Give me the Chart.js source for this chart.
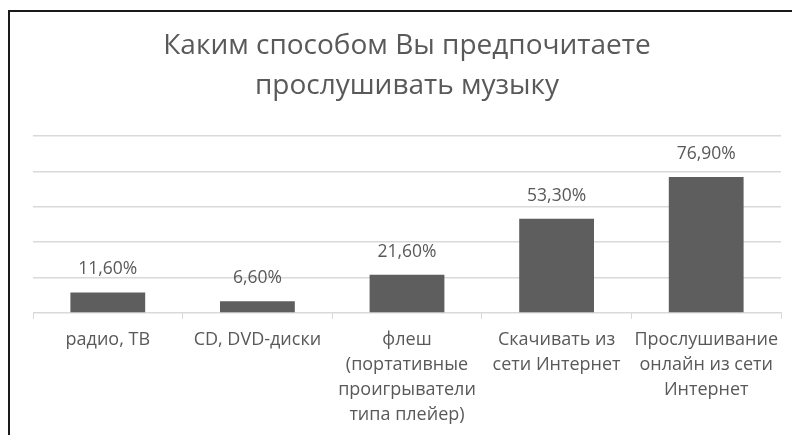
<!DOCTYPE html>
<html lang="ru">
<head>
    <meta charset="UTF-8">
    <title>Каким способом Вы предпочитаете прослушивать музыку</title>
    <script src="https://cdn.jsdelivr.net/npm/chart.js"></script>
    <style>
        html, body {
            margin: 0;
            padding: 0;
            background: #ffffff;
        }

        #wrap {
            position: relative;
            width: 792px;
            height: 435px;
        }

        /* рамка области диаграммы (видны только левый и верхний края) */
        #frame {
            position: absolute;
            left: 8px;
            top: 10px;
            right: -10px;
            bottom: -10px;
            border-left: 2px solid #1a1a1a;
            border-top: 2px solid #1a1a1a;
            pointer-events: none;
        }
    </style>
</head>
<body>
    <div id="wrap">
        <canvas id="myChart" width="792" height="435"></canvas>
        <div id="frame"></div>
    </div>
    <script>
        const categories = [
            ['радио, ТВ'],
            ['CD, DVD-диски'],
            ['флеш', '(портативные', 'проигрыватели', 'типа плейер)'],
            ['Скачивать из', 'сети Интернет'],
            ['Прослушивание', 'онлайн из сети', 'Интернет']
        ];
        const values = [11.6, 6.6, 21.6, 53.3, 76.9];
        const yTicks = [0, 20, 40, 60, 80, 100];

        const FONT = '"Open Sans", "Noto Sans", sans-serif';

        // подписи данных над столбиками
        const valueLabels = {
            id: 'valueLabels',
            afterDatasetsDraw(chart) {
                const ctx = chart.ctx;
                const meta = chart.getDatasetMeta(0);
                ctx.save();
                ctx.font = '17.5px ' + FONT;
                ctx.fillStyle = '#595959';
                ctx.textAlign = 'center';
                ctx.textBaseline = 'middle';
                meta.data.forEach((bar, i) => {
                    const txt = values[i].toFixed(2).replace('.', ',') + '%';
                    ctx.fillText(txt, bar.x, bar.y - 23);
                });
                ctx.restore();
            }
        };

        const ctx = document.getElementById('myChart').getContext('2d');
        const myChart = new Chart(ctx, {
            type: 'bar',
            data: {
                labels: categories,
                datasets: [{
                    data: values,
                    backgroundColor: '#5e5e5e',
                    borderWidth: 0,
                    categoryPercentage: 1,
                    barPercentage: 0.5
                }]
            },
            options: {
                responsive: false,
                animation: false,
                layout: {
                    padding: { left: 33, right: 11, top: 26, bottom: 0 }
                },
                plugins: {
                    legend: { display: false },
                    tooltip: { enabled: false },
                    title: {
                        display: true,
                        text: ['Каким способом Вы предпочитаете', 'прослушивать музыку'],
                        color: '#595959',
                        font: { family: FONT, size: 28, weight: 'normal', lineHeight: 1.43 },
                        padding: { top: 0, bottom: 30 }
                    }
                },
                scales: {
                    x: {
                        grid: {
                            display: true,
                            drawOnChartArea: false,
                            drawTicks: true,
                            tickLength: 6,
                            color: '#d9d9d9'
                        },
                        border: { display: true, color: '#d9d9d9', width: 1 },
                        ticks: {
                            color: '#595959',
                            font: { family: FONT, size: 18, lineHeight: 1.39 },
                            padding: 8,
                            maxRotation: 0,
                            autoSkip: false
                        }
                    },
                    y: {
                        min: 0,
                        max: 100,
                        afterBuildTicks(axis) {
                            axis.ticks = yTicks.map(v => ({ value: v }));
                        },
                        grid: {
                            color: '#d9d9d9',
                            lineWidth: 1.5,
                            drawTicks: false
                        },
                        border: { display: false },
                        ticks: { display: false }
                    }
                }
            },
            plugins: [valueLabels]
        });
    </script>
</body>
</html>
